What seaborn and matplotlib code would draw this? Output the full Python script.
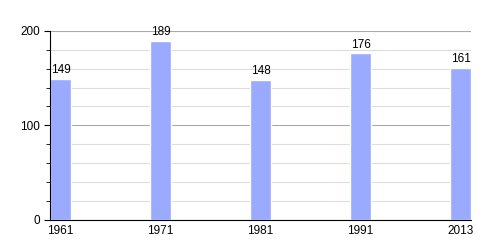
import matplotlib
matplotlib.use("Agg")
import matplotlib.pyplot as plt
import seaborn as sns
import pandas as pd
from matplotlib.ticker import MultipleLocator

years = ["1961", "1971", "1981", "1991", "2013"]
population = [149, 189, 148, 176, 161]

sns.set_style("white")
plt.rcParams["font.family"] = ["Liberation Sans", "DejaVu Sans"]
plt.rcParams["text.color"] = "black"
plt.rcParams["xtick.color"] = "black"
plt.rcParams["ytick.color"] = "black"

df = pd.DataFrame({"year": years, "pop": population})

fig = plt.figure(figsize=(5, 2.5), dpi=100)
ax = fig.add_axes([0.1, 0.12, 0.842, 0.757])

sns.barplot(data=df, x="year", y="pop", color="#99aaff", saturation=1,
            width=0.21, ax=ax, zorder=3)

ax.set_xlim(-0.105, 4.105)
ax.set_ylim(0, 200)
ax.yaxis.set_major_locator(MultipleLocator(100))
ax.yaxis.set_minor_locator(MultipleLocator(20))
ax.grid(which="major", axis="y", color="#aaaaaa", linewidth=0.8, zorder=1)
ax.grid(which="minor", axis="y", color="#dddddd", linewidth=0.8, zorder=1)
ax.set_axisbelow(True)

for s in ["top", "right"]:
    ax.spines[s].set_visible(False)
for s in ["left", "bottom"]:
    ax.spines[s].set_color("black")
    ax.spines[s].set_linewidth(0.8)
    ax.spines[s].set_zorder(6)

ax.tick_params(axis="y", which="major", left=True, length=4, width=0.8,
               labelsize=8.5, pad=3, labelcolor="black")
ax.tick_params(axis="y", which="minor", left=True, length=3, width=0.6)
ax.tick_params(axis="x", bottom=False, labelsize=8.5, pad=0, labelcolor="black")
ax.set_xlabel("")
ax.set_ylabel("")

for i, v in enumerate(population):
    ax.annotate(str(v), (i, v), xytext=(0, 2), textcoords="offset points",
                ha="center", va="bottom", fontsize=8.5, color="black", zorder=5)

fig.savefig("out.png", dpi=100)
